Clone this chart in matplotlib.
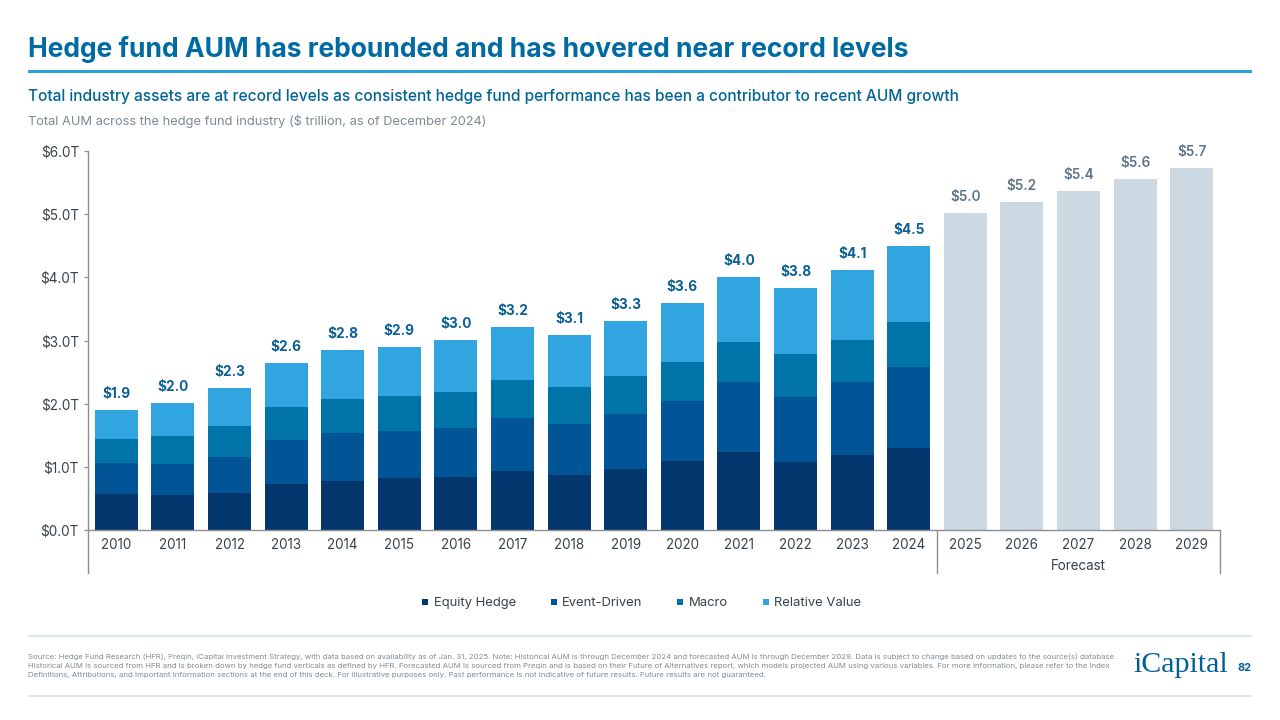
import matplotlib
matplotlib.use("Agg")
import matplotlib.pyplot as plt
from matplotlib.patches import Rectangle
from matplotlib.lines import Line2D
import numpy as np

plt.rcParams['font.family'] = ['Inter', 'DejaVu Sans']

years = [str(y) for y in range(2010, 2030)]
equity_hedge = [.57, .55, .59, .73, .78, .82, .84, .94, .87, .97, 1.09, 1.23, 1.08, 1.18, 1.30]
event_driven = [.49, .50, .57, .70, .76, .74, .78, .83, .81, .87, .96, 1.11, 1.03, 1.16, 1.28]
macro = [.38, .44, .48, .51, .54, .56, .57, .60, .58, .60, .61, .63, .68, .67, .71]
relative_value = [.46, .52, .61, .70, .77, .78, .82, .84, .83, .87, .93, 1.03, 1.04, 1.10, 1.21]
forecast = [5.02, 5.19, 5.37, 5.55, 5.73]
hist_labels = ["$1.9", "$2.0", "$2.3", "$2.6", "$2.8", "$2.9", "$3.0", "$3.2", "$3.1", "$3.3", "$3.6", "$4.0", "$3.8", "$4.1", "$4.5"]
fc_labels = ["$5.0", "$5.2", "$5.4", "$5.6", "$5.7"]
y_ticks = [0, 1, 2, 3, 4, 5, 6]
series_names = ["Equity Hedge", "Event-Driven", "Macro", "Relative Value"]
series_colors = ["#03366C", "#015496", "#0073A8", "#30A5DF"]

W, H = 1280, 720
fig = plt.figure(figsize=(12.8, 7.2), dpi=100, facecolor="white")
BASE = 530.0

def fx(p): return p / W
def fy(p): return 1 - p / H
def px(s): return s * 0.72

# Header
fig.text(fx(28), fy(49.5), "Hedge fund AUM has rebounded and has hovered near record levels",
         fontsize=px(26.42), fontweight="bold", color="#006AA3", va="center", ha="left")
fig.add_artist(Rectangle((fx(28), fy(73)), fx(1224), 2.6 / H, transform=fig.transFigure, color="#2AA3DA", lw=0))
fig.text(fx(28), fy(96), "Total industry assets are at record levels as consistent hedge fund performance has been a contributor to recent AUM growth",
         fontsize=px(15.48), fontweight="medium", color="#006497", va="center", ha="left")
fig.text(fx(28), fy(121), "Total AUM across the hedge fund industry ($ trillion, as of December 2024)",
         fontsize=px(12.83), color="#7A8A96", va="center", ha="left")

# Chart
ax = fig.add_axes([fx(88), fy(BASE), fx(1220 - 88), (BASE - 151) / H])
x = np.arange(len(years))
bw = 0.76
n = len(equity_hedge)
bottom = np.zeros(n)
for vals, name, col in zip([equity_hedge, event_driven, macro, relative_value], series_names, series_colors):
    ax.bar(x[:n], vals, bw, bottom=bottom, color=col, label=name, linewidth=0)
    bottom += np.array(vals)
ax.bar(x[n:], forecast, bw, color="#CDD9E2", linewidth=0)

for xi, tot, lab in zip(x[:n], bottom, hist_labels):
    ax.annotate(lab, (xi, tot), xytext=(0, 16), textcoords="offset pixels", ha="center", va="center",
                fontsize=px(13.6), fontweight="bold", color="#0A6095")
for xi, tot, lab in zip(x[n:], forecast, fc_labels):
    ax.annotate(lab, (xi, tot), xytext=(0, 16), textcoords="offset pixels", ha="center", va="center",
                fontsize=px(13.6), fontweight="semibold", color="#5E7589")

ax.set_xlim(-0.5, 19.5)
ax.set_ylim(0, 6)
ax.set_yticks(y_ticks)
ax.set_yticklabels([f"${v}.0T" for v in y_ticks], fontsize=px(13.6), color="#37424A")
ax.set_xticks(x)
ax.set_xticklabels(years, fontsize=px(13.4), color="#37424A")
ax.tick_params(axis="x", length=0, pad=6)
ax.tick_params(axis="y", length=3, width=0.9, color="#8E8E8E", pad=3.5)
for s in ["top", "right"]:
    ax.spines[s].set_visible(False)
for s in ["left", "bottom"]:
    ax.spines[s].set_color("#8E8E8E")
    ax.spines[s].set_linewidth(1.0)

# Bracket lines below the axis
below = -(573 - BASE) / (BASE - 151)
tr = ax.get_xaxis_transform()
for xp in [-0.5, 14.5, 19.5]:
    ax.add_line(Line2D([xp, xp], [0, below], transform=tr, color="#8E8E8E", lw=1.0, clip_on=False))
ax.text(17, below + 7 / (BASE - 151), "Forecast", transform=tr, ha="center", va="center",
        fontsize=px(13.4), color="#37424A")

# Legend
proxy = [Line2D([], [], marker="s", ls="none", ms=4.6, color=c, mew=0) for c in series_colors]
fig.legend(proxy, series_names, loc="center", bbox_to_anchor=(fx(640), fy(603)), ncol=4, frameon=False,
           fontsize=px(13), labelcolor="#37424A", handletextpad=0.15, columnspacing=2.4, handlelength=1.0)

# Footer
for yy in [636, 696]:
    fig.add_artist(Rectangle((fx(28), fy(yy + 1)), fx(1224), 1.6 / H, transform=fig.transFigure, color="#DDE6EB", lw=0))
foot = ["Source: Hedge Fund Research (HFR), Preqin, iCapital Investment Strategy, with data based on availability as of Jan. 31, 2025. Note: Historical AUM is through December 2024 and forecasted AUM is through December 2029. Data is subject to change based on updates to the source(s) database.",
        "Historical AUM is sourced from HFR and is broken down by hedge fund verticals as defined by HFR. Forecasted AUM is sourced from Preqin and is based on their Future of Alternatives report, which models projected AUM using various variables. For more information, please refer to the Index",
        "Definitions, Attributions, and Important Information sections at the end of this deck. For illustrative purposes only. Past performance is not indicative of future results. Future results are not guaranteed."]
for yy, line in zip([656.3, 665.6, 675], foot):
    fig.text(fx(28), fy(yy), line, fontsize=px(7.82), color="#7F8C95", va="center", ha="left")

fig.text(fx(1133), fy(665.5), "iCapital", fontsize=px(30), fontfamily=["Liberation Serif"], color="#005F94", va="center", ha="left")
fig.text(fx(1252), fy(668), "82", fontsize=px(11), fontweight="bold", color="#0A6095", va="center", ha="right")

fig.savefig("out.png", dpi=100)
